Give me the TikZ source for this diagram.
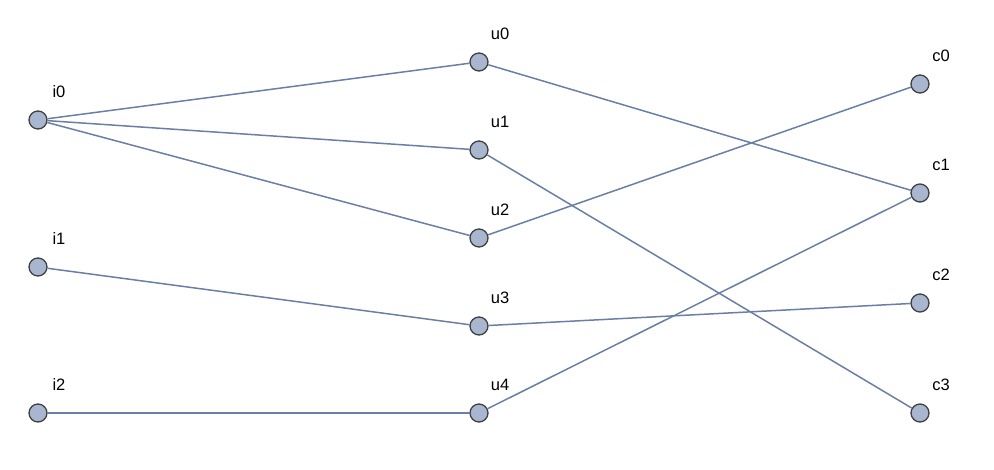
\documentclass[tikz,border=0pt]{standalone}
\usepackage{fontspec}
\setmainfont{Liberation Sans}
\definecolor{nodefill}{HTML}{A8B6CF}
\definecolor{nodeline}{HTML}{404040}
\definecolor{edgecol}{HTML}{6B7FA3}
\begin{document}
\begin{tikzpicture}[x=1pt,y=-1pt,
  vert/.style={circle,draw=nodeline,fill=nodefill,line width=1.3pt,minimum size=18pt,inner sep=0pt},
  lab/.style={font=\fontsize{16.5}{16.5}\selectfont,inner sep=0pt},
  edge/.style={draw=edgecol,line width=1.5pt}]
\useasboundingbox (0,0) rectangle (994,470);
\foreach \n/\x/\y in {i0/38/120,i1/38/267,i2/38/413,u0/479/62,u1/479/150,u2/479/238,u3/479/326,u4/479/413,c0/920/84,c1/920/193,c2/920/303,c3/920/413}{
  \node[vert] (\n) at (\x,\y) {};
  \node[lab] (l\n) at ([shift={(21,-28)}]\n.center) {\n};
}
\foreach \a/\b in {i0/u0,i0/u1,i0/u2,i1/u3,i2/u4,u0/c1,u1/c3,u2/c0,u3/c2,u4/c1}{
  \draw[edge] (\a) -- (\b);
}
\end{tikzpicture}
\end{document}
